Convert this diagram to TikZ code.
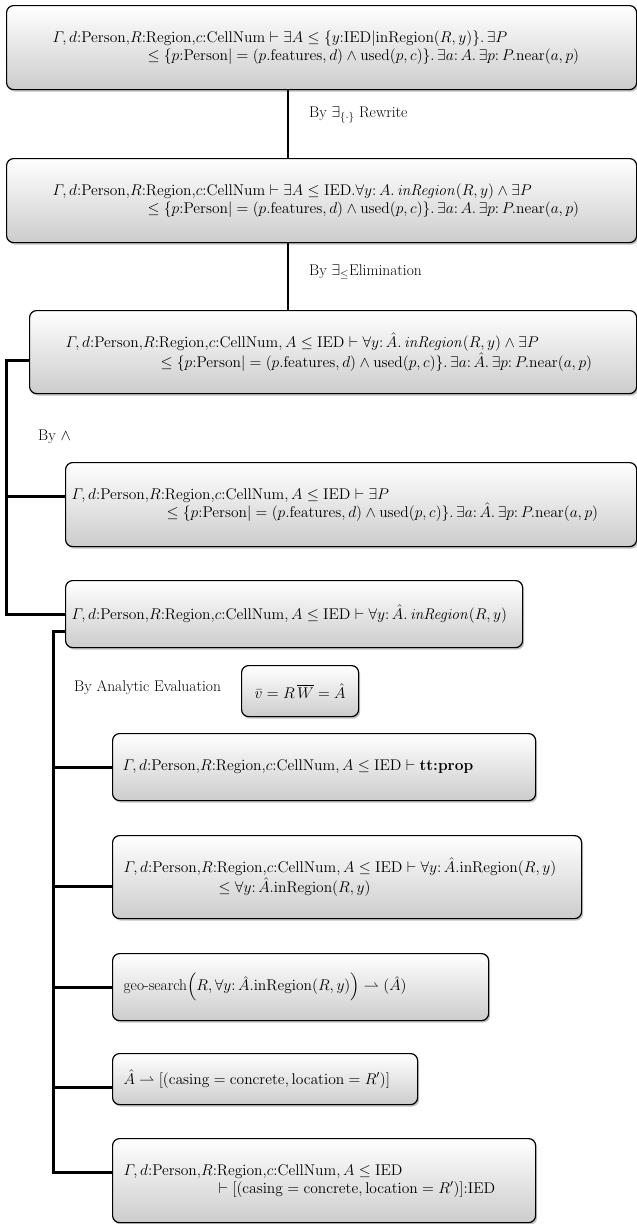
\RequirePackage{fix-cm}
\documentclass[tikz,border=0pt]{standalone}
\usepackage{tikz}
\usetikzlibrary{shadows,calc,positioning}
\usepackage{amssymb}
\usepackage{amsmath}
\relpenalty=10000
\binoppenalty=10000

\tikzset{
  kasten/.style={draw=black,line width=1.2pt,rounded corners=7pt,
    top color=white,bottom color=gray!40,
    drop shadow={shadow xshift=1.5pt,shadow yshift=-2pt,opacity=0.5},
    anchor=north west,align=left,inner ysep=0pt,
    font=\fontsize{15.5}{18}\selectfont},
  regel/.style={anchor=west,inner sep=0pt,font=\fontsize{15.5}{18}\selectfont},
  stamm/.style={line width=2pt},
  ast/.style={line width=3pt}
}

\begin{document}
\begin{tikzpicture}[x=1pt,y=-1pt]
\useasboundingbox (0,0) rectangle (637,1224);
%Kontext und Menge kommen in fast jedem Kasten vor
  \def\Kontext{\varGamma,d{:}\mathrm{Person}{,}R{:}\mathrm{Region}{,}c{:}\mathrm{CellNum}}
  \def\Menge{\{p{:}\mathrm{Person}|=(p.\mathrm{features},d)\wedge\mathrm{used}(p,c)\}}
  \def\Ah{\hat{A}}
  \def\Fall{[(\mathrm{casing}=\mathrm{concrete},\mathrm{location}=R')]}
%Hauptkette
\node[kasten,inner xsep=46pt,text width=538pt,minimum height=84pt] (b1) at (6,5)
  {$\Kontext\vdash\exists A\leq\{y{:}\mathrm{IED}|\mathrm{inRegion}(R,y)\}.\,\exists P$\\
   \hspace*{95pt}$\leq\Menge.\,\exists a{:}\,A.\,\exists p{:}\,P.\mathrm{near}(a,p)$};
\node[kasten,inner xsep=46pt,text width=538pt,minimum height=84pt] (b2) at (6,158)
  {$\Kontext\vdash\exists A\leq\mathrm{IED}.\forall y{:}\,A.\,\mathit{inRegion}(R,y)\wedge\exists P$\\
   \hspace*{95pt}$\leq\Menge.\,\exists a{:}\,A.\,\exists p{:}\,P.\mathrm{near}(a,p)$};
\node[kasten,inner xsep=36pt,text width=535pt,minimum height=83pt] (b3) at (29,310)
  {$\Kontext,A\leq\mathrm{IED}\vdash\forall y{:}\,\Ah.\,\mathit{inRegion}(R,y)\wedge\exists P$\\
   \hspace*{95pt}$\leq\Menge.\,\exists a{:}\,\Ah.\,\exists p{:}\,P.\mathrm{near}(a,p)$};
%Zweige nach der Konjunktion
\node[kasten,inner xsep=6pt,text width=559pt,minimum height=84pt] (b4) at (65,462)
  {$\Kontext,A\leq\mathrm{IED}\vdash\exists P$\\
   \hspace*{95pt}$\leq\Menge.\,\exists a{:}\,\Ah.\,\exists p{:}\,P.\mathrm{near}(a,p)$};
\node[kasten,inner xsep=6pt,text width=445pt,minimum height=67pt] (b5) at (65,580)
  {$\Kontext,A\leq\mathrm{IED}\vdash\forall y{:}\,\Ah.\,\mathit{inRegion}(R,y)$};
\node[kasten,align=center,inner xsep=0pt,minimum width=117pt,minimum height=51pt] (wert) at (241,665)
  {$\bar{v}=R\,\overline{W}=\Ah$};
%Analytische Auswertung
\node[kasten,inner xsep=10pt,text width=403pt,minimum height=67pt] (b6) at (112,733)
  {$\Kontext,A\leq\mathrm{IED}\vdash\textbf{tt:prop}$};
\node[kasten,inner xsep=11pt,text width=447pt,minimum height=83pt] (b7) at (112,835)
  {$\Kontext,A\leq\mathrm{IED}\vdash\forall y{:}\,\Ah.\mathrm{inRegion}(R,y)$\\
   \hspace*{95pt}$\leq\forall y{:}\,\Ah.\mathrm{inRegion}(R,y)$};
\node[kasten,inner xsep=11pt,text width=354pt,minimum height=67pt] (b8) at (112,953)
  {$\text{geo-search}\Bigl(R,\forall y{:}\,\Ah.\mathrm{inRegion}(R,y)\Bigr)\rightharpoonup(\Ah)$};
\node[kasten,inner xsep=11pt,text width=283pt,minimum height=51pt] (b9) at (112,1053)
  {$\Ah\rightharpoonup\Fall$};
\node[kasten,inner xsep=11pt,text width=401pt,minimum height=84pt] (b10) at (112,1138)
  {$\Kontext,A\leq\mathrm{IED}$\\
   \hspace*{95pt}$\vdash\Fall{:}\mathrm{IED}$};
%Regeln
\node[regel] (r1) at (309,115) {By $\exists_{\{\cdot\}}$ Rewrite};
\node[regel] (r2) at (309,272) {By $\exists_{\leq}$Elimination};
\node[regel] (r3) at (38,437) {By $\wedge$};
\node[regel] (r4) at (74,688) {By Analytic Evaluation};
%Verbindungen
\coordinate (s) at (288,0);
\draw[stamm] (b1.south -| s) -- (b2.north -| s);
\draw[stamm] (b2.south -| s) -- (b3.north -| s);
\coordinate (k1) at (6,360);
\draw[ast] (b3.west |- k1) -- (k1) |- (b5.west);
\draw[ast] ([yshift=8pt]b4.west) -- ([yshift=8pt]b4.west -| k1);
\coordinate (k2) at (53,631);
\draw[ast] (b5.west |- k2) -- (k2) |- ([yshift=8pt]b10.west);
\foreach \ziel/\dy in {b6/0,b7/-9,b8/0,b9/-8}
  \draw[ast] ([yshift=\dy pt]\ziel.west) -- ([yshift=\dy pt]\ziel.west -| k2);
\end{tikzpicture}
\end{document}
